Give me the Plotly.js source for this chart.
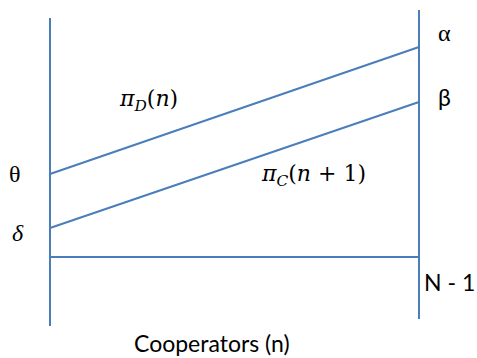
<!DOCTYPE html>
<html><head><meta charset="utf-8">
<script src="https://cdn.plot.ly/plotly-3.0.1.min.js"></script>
<style>html,body{margin:0;padding:0;background:#fff;}#chart{width:477px;height:358px;}</style>
</head><body><div id="chart"></div>
<script>
// Conceptual data: x = number of cooperators (0 .. N-1, N-1 scaled to 10), y = payoff
const nValues = [0, 10];
const piD = [0.83, 2.10];      // theta -> alpha
const piC = [0.29, 1.55];      // delta -> beta
const baseline = [0, 0];
const leftAxisY = [2.39, -0.69];
const rightAxisY = [2.47, -0.62];
const labels = {theta: "θ", delta: "<i>δ</i>", alpha: "α", beta: "β", nEnd: "N - 1", xTitle: "Cooperators (n)"};

const blue = "#4a7ebb";
const line = {color: blue, width: 2};
const traces = [
  {x: [nValues[0], nValues[0]], y: leftAxisY, mode: "lines", line: line},
  {x: [nValues[1], nValues[1]], y: rightAxisY, mode: "lines", line: line},
  {x: nValues, y: baseline, mode: "lines", line: line},
  {x: nValues, y: piD, mode: "lines", line: line},
  {x: nValues, y: piC, mode: "lines", line: line}
];
const tf = {family: "Lato, 'Open Sans', sans-serif", size: 23, color: "#000"};
const gf = {family: "'Liberation Serif', 'DejaVu Serif', serif", size: 24, color: "#000"};
const mf = {family: "'DejaVu Serif', 'Liberation Serif', serif", size: 22, color: "#000"};
function ann(x, y, text, font) {
  return {x: x, y: y, xref: "x", yref: "y", text: text, showarrow: false, font: font, xanchor: "center", yanchor: "middle"};
}
const layout = {
  width: 477, height: 358,
  margin: {l: 0, r: 0, t: 0, b: 0},
  paper_bgcolor: "#fff", plot_bgcolor: "#fff",
  showlegend: false,
  xaxis: {range: [-1.355, 11.572], visible: false, fixedrange: true},
  yaxis: {range: [-1.01, 2.57], visible: false, fixedrange: true},
  annotations: [
    ann(-0.95, piD[0], labels.theta, gf),
    ann(-0.87, piC[0] - 0.05, labels.delta, gf),
    ann(10.7, piD[1] + 0.14, labels.alpha, gf),
    ann(10.68, piC[1] + 0.05, labels.beta, tf),
    ann(10.84, -0.25, labels.nEnd, tf),
    ann(4.39, -0.86, labels.xTitle, tf),
    ann(2.66, 1.57, "<i>π</i><sub><i>D</i></sub>(<i>n</i>)", mf),
    ann(7.15, 0.82, "<i>π</i><sub><i>C</i></sub>(<i>n</i> + 1)", mf)
  ]
};
Plotly.newPlot("chart", traces, layout, {displayModeBar: false, staticPlot: true});
</script></body></html>
